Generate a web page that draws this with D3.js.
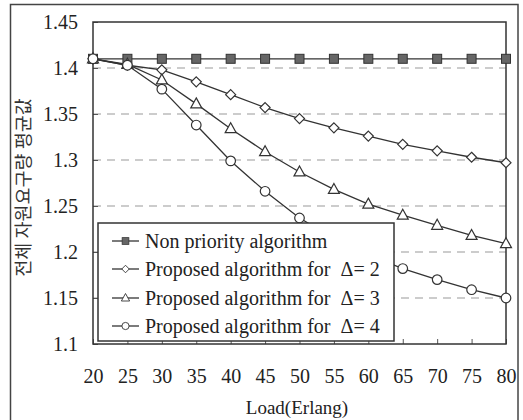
<!DOCTYPE html>
<html><head><meta charset="utf-8">
<script src="https://cdn.jsdelivr.net/npm/d3@7"></script>
<style>body{margin:0;background:#fff}svg{display:block}
.serif{font-family:"Liberation Serif","Times New Roman",Times,serif;}
</style>
</head><body><svg id="c" width="523" height="420"></svg>
<script>
const loads = [20,25,30,35,40,45,50,55,60,65,70,75,80];
const nonPriority = [1.41,1.41,1.41,1.41,1.41,1.41,1.41,1.41,1.41,1.41,1.41,1.41,1.41];
const delta2 = [1.41,1.403,1.398,1.385,1.371,1.357,1.345,1.335,1.326,1.317,1.310,1.303,1.297];
const delta3 = [1.41,1.404,1.387,1.361,1.334,1.309,1.287,1.268,1.252,1.240,1.229,1.218,1.209];
const delta4 = [1.41,1.403,1.377,1.338,1.299,1.266,1.237,1.215,1.197,1.182,1.170,1.159,1.150];
const yTicks = [1.1,1.15,1.2,1.25,1.3,1.35,1.4,1.45];
const seriesNames = ["Non priority algorithm","Proposed algorithm for  \u0394= 2","Proposed algorithm for  \u0394= 3","Proposed algorithm for  \u0394= 4"];
const seriesMarkers = ["square","diamond","triangle","circle"];
const xTitle = "Load(Erlang)";
const yTitle = "전체 자원요구량 평균값";

const series = [nonPriority, delta2, delta3, delta4].map((v,i)=>({name:seriesNames[i], marker:seriesMarkers[i], values:v}));

const svg = d3.select("#c");
const L=93, R=506, T=22, B=344;
const x = d3.scalePoint().domain(loads).range([L,R]);
const y = d3.scaleLinear().domain([1.1,1.45]).range([B,T]);
const ink = "#222";

// outer frame
svg.append("rect").attr("x",10.5).attr("y",4.5).attr("width",507.5).attr("height",430)
  .attr("fill","none").attr("stroke","#444").attr("stroke-width",1.5);

// grid
svg.append("g").selectAll("line").data(yTicks.filter(t=>t>1.1 && t<1.45)).join("line")
  .attr("x1",L).attr("x2",R).attr("y1",d=>y(d)).attr("y2",d=>y(d))
  .attr("stroke","#999").attr("stroke-width",1).attr("stroke-dasharray","8,6");

// axes
const yAxis = d3.axisLeft(y).tickValues(yTicks).tickSize(-5).tickPadding(15).tickFormat(d=>String(+d.toFixed(2)));
const gy = svg.append("g").attr("transform",`translate(${L},0)`).call(yAxis);
const xAxis = d3.axisBottom(x).tickSize(-5).tickPadding(25);
const gx = svg.append("g").attr("transform",`translate(0,${B})`).call(xAxis);
[gx,gy].forEach(g=>{
  g.attr("font-family",null).attr("font-size",null);
  g.select(".domain").remove();
  g.selectAll(".tick line").attr("stroke","#555");
  g.selectAll("text").attr("class","serif").style("font-size","20px").attr("fill",ink);
});

// plot frame
svg.append("rect").attr("x",L).attr("y",T).attr("width",R-L).attr("height",B-T)
  .attr("fill","none").attr("stroke","#333").attr("stroke-width",1.5);

function drawMarker(g, type){
  if(type==="square"){
    g.append("rect").attr("x",-4.5).attr("y",-4.5).attr("width",9).attr("height",9)
      .attr("fill","#666").attr("stroke","#333").attr("stroke-width",1);
  } else if(type==="diamond"){
    g.append("path").attr("d","M0,-5L5,0L0,5L-5,0Z").attr("fill","#fff").attr("stroke","#333").attr("stroke-width",1.2);
  } else if(type==="triangle"){
    g.append("path").attr("d","M0,-6L5.5,4L-5.5,4Z").attr("fill","#fff").attr("stroke","#333").attr("stroke-width",1.2);
  } else {
    g.append("circle").attr("r",4.8).attr("fill","#fff").attr("stroke","#333").attr("stroke-width",1.2);
  }
}

const line = d3.line().x((d,i)=>x(loads[i])).y(d=>y(d));
series.forEach(s=>{
  svg.append("path").datum(s.values).attr("d",line).attr("fill","none")
    .attr("stroke","#333").attr("stroke-width",1.3);
  s.values.forEach((v,i)=>{
    const g = svg.append("g").attr("transform",`translate(${x(loads[i])},${y(v)})`);
    drawMarker(g, s.marker);
  });
});

// legend
const lg = svg.append("g");
lg.append("rect").attr("x",98).attr("y",223).attr("width",296).attr("height",118)
  .attr("fill","#fff").attr("stroke","#333").attr("stroke-width",1.5);
const rowY = [241,269,298,326];
series.forEach((s,i)=>{
  const g = lg.append("g").attr("transform",`translate(0,${rowY[i]})`);
  g.append("line").attr("x1",112).attr("x2",139).attr("y1",0).attr("y2",0).attr("stroke","#333").attr("stroke-width",1.3);
  const m = g.append("g").attr("transform",`translate(125.5,0) scale(0.75)`);
  drawMarker(m, s.marker);
  g.append("text").attr("class","serif").attr("x",145).attr("y",0).attr("dy","0.35em")
    .style("font-size","20px").style("white-space","pre").attr("fill",ink).text(s.name);
});

// titles
svg.append("text").attr("class","serif").attr("x",297).attr("y",407).attr("dy","0.35em").attr("text-anchor","middle")
  .style("font-size","19px").attr("fill",ink).text(xTitle);
svg.append("text").attr("transform",`translate(24,${(85+290)/2}) rotate(-90)`).attr("text-anchor","middle").attr("dy","0.35em")
  .style("font-family","'Noto Sans CJK KR',sans-serif").style("font-size","18.5px").attr("fill","#333").text(yTitle);
</script></body></html>
